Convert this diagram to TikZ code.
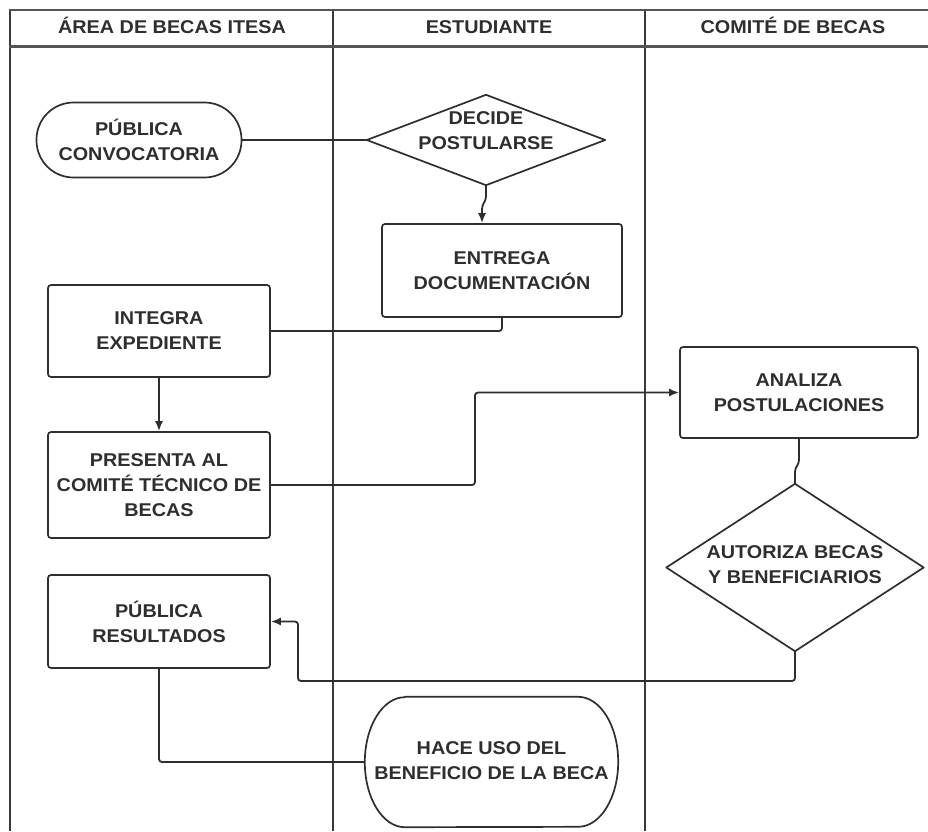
\documentclass[tikz,border=0pt]{standalone}
\usepackage{fontspec}
\setmainfont{Liberation Sans}[FakeStretch=1.07]
\usetikzlibrary{arrows.meta}
\definecolor{ink}{HTML}{2E2E2E}
\definecolor{lanec}{HTML}{3A3A3A}
\definecolor{hdrc}{HTML}{555555}
\begin{document}
\begin{tikzpicture}[x=1pt,y=-1pt,
  txt/.style={font=\fontsize{18.5}{25}\selectfont\bfseries, text=ink, align=center, inner sep=0pt},
  proc/.style={txt, draw=ink, line width=1.7pt, rounded corners=3pt},
  shapeonly/.style={txt, draw=none},
  outline/.style={draw=ink, line width=1.7pt, line join=round},
  conn/.style={draw=ink, line width=1.8pt, rounded corners=3pt},
  arr/.style={-{Latex[length=10pt,width=8pt]}},
  lane/.style={draw=lanec, line width=1.4pt},
  hdr/.style={draw=hdrc, line width=2.8pt}
]
\useasboundingbox (0,0) rectangle (928,831);
% swimlanes
\draw[lane] (10,10) -- (10,831);
\draw[lane] (333,10) -- (333,831);
\draw[lane] (645,10) -- (645,831);
\draw[hdr] (9,10) -- (928,10);
\draw[hdr] (9,46.5) -- (928,46.5);
\node[txt, anchor=base] (h1) at (172,33) {ÁREA DE BECAS ITESA};
\node[txt, anchor=base] (h2) at (489,33) {ESTUDIANTE};
\node[txt, anchor=base] (h3) at (793,33) {COMITÉ DE BECAS};

% nodes
\node[proc, rounded corners=37pt, minimum width=205pt, minimum height=75pt] (conv) at (139,140) {PÚBLICA\\CONVOCATORIA};

\node[shapeonly, minimum width=238pt, minimum height=90pt] (decide) at (486,140) {};
\draw[outline] (decide.north) -- (decide.east) -- (decide.south) -- (decide.west) -- cycle;
\node[txt] (decidet) at ([yshift=9pt]decide.center) {DECIDE\\POSTULARSE};

\node[proc, minimum width=240pt, minimum height=93pt] (entrega) at (502,270.5) {ENTREGA\\DOCUMENTACIÓN};
\node[proc, minimum width=222pt, minimum height=92pt] (integra) at (159,331) {INTEGRA\\EXPEDIENTE};
\node[proc, minimum width=222pt, minimum height=106pt] (presenta) at (159,485) {PRESENTA AL\\COMITÉ TÉCNICO DE\\BECAS};
\node[proc, minimum width=238pt, minimum height=91pt] (analiza) at (799,392.5) {ANALIZA\\POSTULACIONES};

\node[shapeonly, minimum width=257pt, minimum height=167pt] (autoriza) at (795,567.5) {};
\draw[outline] (autoriza.north) -- (autoriza.east) -- (autoriza.south) -- (autoriza.west) -- cycle;
\node[txt] (autorizat) at ([yshift=3pt]autoriza.center) {AUTORIZA BECAS\\Y BENEFICIARIOS};

\node[proc, minimum width=222pt, minimum height=93pt] (resultados) at (159,621.5) {PÚBLICA\\RESULTADOS};

\node[shapeonly, minimum width=253pt, minimum height=130pt] (hace) at (491.5,762) {};
\draw[outline] ([xshift=40pt]hace.north west) -- ([xshift=-40pt]hace.north east)
  arc[start angle=90, end angle=-90, x radius=40pt, y radius=65pt]
  -- ([xshift=40pt]hace.south west)
  arc[start angle=270, end angle=90, x radius=40pt, y radius=65pt] -- cycle;
\node[txt] (hacet) at ([yshift=1pt]hace.center) {HACE USO DEL\\BENEFICIO DE LA BECA};

% connectors
\coordinate (j1) at (475,0);
\coordinate (j2) at (298,681);
\draw[conn] (conv.east) -- (decide.west);
\draw[conn, arr] (decide.south) -- ++(0,14) -- ++(-4,7) -- ([xshift=-4pt]decide.south |- entrega.north);
\draw[conn] (entrega.south) |- (integra.east);
\draw[conn, arr] (integra.south) -- (presenta.north);
\draw[conn, arr] (presenta.east) -| (j1 |- analiza.west) -- (analiza.west);
\draw[conn] (analiza.south) -- ++(0,24) -- ++(-4,6) -- ([xshift=-4pt]analiza.south |- autoriza.north);
\draw[conn, arr] (autoriza.south) |- (j2) |- (resultados.east);
\draw[conn] (resultados.south) |- (hace.west);
\end{tikzpicture}
\end{document}
